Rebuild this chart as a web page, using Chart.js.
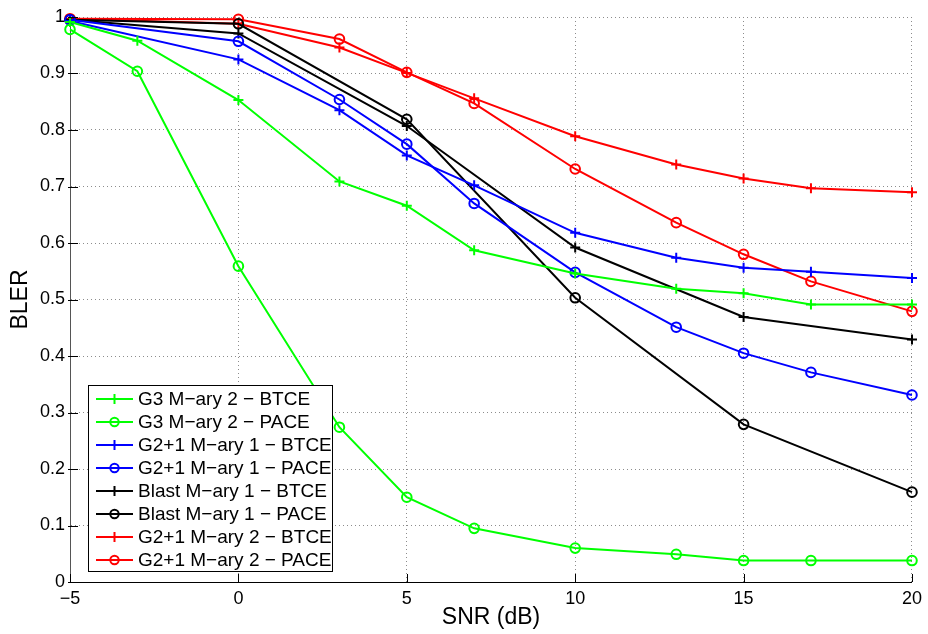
<!DOCTYPE html>
<html>
<head>
<meta charset="utf-8">
<title>BLER vs SNR</title>
<script src="https://cdn.jsdelivr.net/npm/chart.js@4.4.1/dist/chart.umd.min.js"></script>
<style>
  html, body { margin: 0; padding: 0; background: #fff; }
  #wrap { width: 928px; height: 634px; }
</style>
</head>
<body>
<div id="wrap"><canvas id="blerChart" width="928" height="634"></canvas></div>
<script>
// SNR points (dB) per group of curves
const snrG3 = [-5, -3, 0, 3, 5, 7, 10, 13, 15, 17, 20];
const snrG21 = [-5, 0, 3, 5, 7, 10, 13, 15, 17, 20];
const snrBlast = [-5, 0, 5, 10, 15, 20];

// BLER values
const g3Btce = [0.991, 0.958, 0.853, 0.709, 0.666, 0.587, 0.546, 0.519, 0.511, 0.491, 0.491];
const g3Pace = [0.978, 0.904, 0.559, 0.274, 0.150, 0.095, 0.060, 0.049, 0.038, 0.038, 0.038];
const g21m1Btce = [0.993, 0.925, 0.835, 0.755, 0.702, 0.618, 0.574, 0.556, 0.549, 0.538];
const g21m1Pace = [0.995, 0.957, 0.854, 0.775, 0.670, 0.548, 0.451, 0.405, 0.371, 0.331];
const blastBtce = [0.995, 0.971, 0.807, 0.592, 0.469, 0.429];
const blastPace = [0.995, 0.988, 0.819, 0.503, 0.279, 0.159];
const g21m2Btce = [0.997, 0.988, 0.946, 0.901, 0.856, 0.789, 0.739, 0.714, 0.697, 0.690];
const g21m2Pace = [0.997, 0.996, 0.961, 0.902, 0.847, 0.731, 0.636, 0.580, 0.532, 0.479];

const xTicks = [-5, 0, 5, 10, 15, 20];
const yTicks = [0, 0.1, 0.2, 0.3, 0.4, 0.5, 0.6, 0.7, 0.8, 0.9, 1];

const FONT = "'Liberation Sans', Arial, Helvetica, sans-serif";

function pts(xs, ys) {
  return xs.map((x, i) => ({ x: x, y: ys[i] }));
}

function series(label, xs, ys, color, marker) {
  return {
    label: label,
    data: pts(xs, ys),
    borderColor: color,
    backgroundColor: 'transparent',
    borderWidth: 2,
    pointStyle: marker,
    pointRadius: marker === 'cross' ? 5 : 4.8,
    pointBorderWidth: 2,
    pointBorderColor: color,
    pointBackgroundColor: 'transparent',
    tension: 0,
    clip: false
  };
}

const datasets = [
  series('G3 M\u2212ary 2 \u2212 BTCE', snrG3, g3Btce, '#00ff00', 'cross'),
  series('G3 M\u2212ary 2 \u2212 PACE', snrG3, g3Pace, '#00ff00', 'circle'),
  series('G2+1 M\u2212ary 1 \u2212 BTCE', snrG21, g21m1Btce, '#0000ff', 'cross'),
  series('G2+1 M\u2212ary 1 \u2212 PACE', snrG21, g21m1Pace, '#0000ff', 'circle'),
  series('Blast M\u2212ary 1 \u2212 BTCE', snrBlast, blastBtce, '#000000', 'cross'),
  series('Blast M\u2212ary 1 \u2212 PACE', snrBlast, blastPace, '#000000', 'circle'),
  series('G2+1 M\u2212ary 2 \u2212 BTCE', snrG21, g21m2Btce, '#ff0000', 'cross'),
  series('G2+1 M\u2212ary 2 \u2212 PACE', snrG21, g21m2Pace, '#ff0000', 'circle')
];

// matlab style ticks pointing into the plot
const innerTicks = {
  id: 'innerTicks',
  afterDatasetsDraw(chart) {
    const ctx = chart.ctx;
    const a = chart.chartArea;
    const xs = chart.scales.x, ys = chart.scales.y;
    ctx.save();
    ctx.lineWidth = 1;
    ctx.strokeStyle = '#000';
    xTicks.forEach(v => {
      const px = Math.round(xs.getPixelForValue(v)) + 0.5;
      ctx.beginPath();
      ctx.moveTo(px, a.bottom);
      ctx.lineTo(px, a.bottom - 8);
      ctx.stroke();
    });
    yTicks.forEach(v => {
      const py = Math.round(ys.getPixelForValue(v)) + 0.5;
      ctx.beginPath();
      ctx.moveTo(a.left - 2, py);
      ctx.lineTo(a.left + 8, py);
      ctx.stroke();
    });
    ctx.restore();
  }
};

// legend box in the lower left of the axes
const boxLegend = {
  id: 'boxLegend',
  afterDraw(chart) {
    const ctx = chart.ctx;
    const a = chart.chartArea;
    const left = a.left + 18, top = a.bottom - 197;
    const w = 244, h = 186, row = 23;
    ctx.save();
    ctx.fillStyle = '#fff';
    ctx.fillRect(left, top, w, h);
    ctx.lineWidth = 1;
    ctx.strokeStyle = '#000';
    ctx.strokeRect(left + 0.5, top + 0.5, w, h);
    ctx.font = '19px ' + FONT;
    ctx.textBaseline = 'middle';
    chart.data.datasets.forEach((ds, i) => {
      const y = top + 14 + i * row;
      ctx.strokeStyle = ds.borderColor;
      ctx.lineWidth = 2;
      ctx.beginPath();
      ctx.moveTo(left + 8, y);
      ctx.lineTo(left + 45, y);
      ctx.stroke();
      ctx.fillStyle = 'rgba(0,0,0,0)';
      Chart.helpers.drawPoint(ctx, {
        pointStyle: ds.pointStyle,
        radius: ds.pointStyle === 'cross' ? 5 : 4.2,
        borderWidth: 2,
        rotation: 0
      }, left + 26.5, y);
      ctx.fillStyle = '#000';
      ctx.fillText(ds.label, left + 50, y + 1);
    });
    ctx.restore();
  }
};

function initChart() {
  const ctx = document.getElementById('blerChart').getContext('2d');
  return new Chart(ctx, {
    type: 'line',
    data: { datasets: datasets },
    plugins: [innerTicks, boxLegend],
    options: {
      responsive: false,
      animation: false,
      layout: { padding: { top: 17, right: 14, left: 0, bottom: 0 } },
      plugins: {
        legend: { display: false },
        tooltip: { enabled: false }
      },
      scales: {
        x: {
          type: 'linear',
          min: -5,
          max: 20,
          afterFit: s => { s.height = 52; },
          afterBuildTicks: s => { s.ticks = xTicks.map(v => ({ value: v })); },
          ticks: {
            color: '#000',
            padding: 6,
            font: { family: FONT, size: 18 },
            callback: v => (v < 0 ? '\u2212' + Math.abs(v) : String(v))
          },
          grid: { color: '#8c8c8c', lineWidth: 1, drawTicks: false },
          border: { display: true, color: '#000', width: 1, dash: [1, 3] },
          title: {
            display: true,
            text: 'SNR (dB)',
            color: '#000',
            font: { family: FONT, size: 23 },
            padding: { top: 0, bottom: 3 }
          }
        },
        y: {
          type: 'linear',
          min: 0,
          max: 1,
          afterFit: s => { s.width = 70; },
          afterBuildTicks: s => { s.ticks = yTicks.map(v => ({ value: v })); },
          ticks: {
            color: '#000',
            padding: 5,
            font: { family: FONT, size: 18 },
            callback: v => (v === 0 || v === 1 ? String(v) : v.toFixed(1))
          },
          grid: { color: '#8c8c8c', lineWidth: 1, drawTicks: false },
          border: { display: true, color: '#555', width: 1, dash: [1, 3] },
          title: {
            display: true,
            text: 'BLER',
            color: '#000',
            font: { family: FONT, size: 23 },
            padding: { top: 7, bottom: 0 }
          }
        }
      }
    }
  });
}

initChart();
</script>
</body>
</html>
